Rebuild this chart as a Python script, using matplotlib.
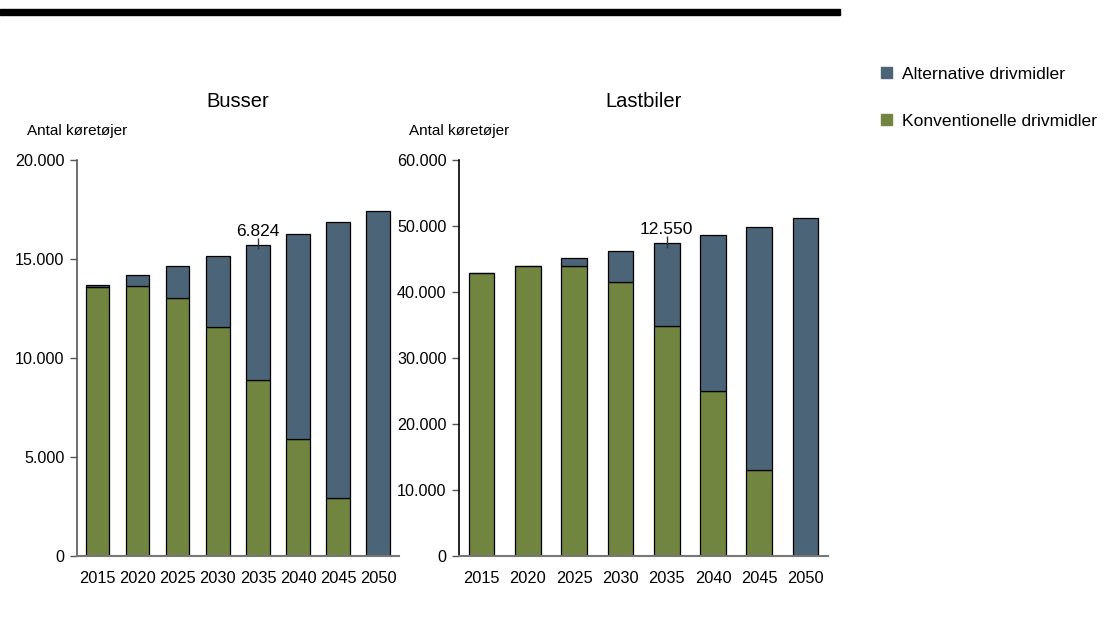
import matplotlib.pyplot as plt
import matplotlib.patches as mpatches
from matplotlib.ticker import FuncFormatter

plt.rcParams['font.family'] = ['Liberation Sans', 'DejaVu Sans']

years = ['2015', '2020', '2025', '2030', '2035', '2040', '2045', '2050']

# Busser
bus_konv = [13600, 13620, 13050, 11580, 8900, 5920, 2910, 0]
bus_alt = [100, 570, 1610, 3590, 6824, 10360, 13940, 17430]

# Lastbiler
last_konv = [42880, 43980, 43980, 41520, 34900, 25070, 13070, 0]
last_alt = [0, 0, 1170, 4730, 12550, 23560, 36810, 51250]

col_alt = '#4b6477'
col_konv = '#718541'


def thousands(v, pos):
    return f'{int(v):,}'.replace(',', '.')


def draw_panel(ax, konv, alt, title, ymax, step, width, xlim, label_idx, ax_px):
    x = range(len(years))
    ax.bar(x, konv, width=width, color=col_konv, edgecolor='black', linewidth=0.9)
    ax.bar(x, alt, bottom=konv, width=width, color=col_alt, edgecolor='black', linewidth=0.9)
    ax.set_xlim(*xlim)
    ax.set_ylim(0, ymax)
    ax.set_yticks(range(0, ymax + 1, step))
    ax.yaxis.set_major_formatter(FuncFormatter(thousands))
    ax.set_xticks(list(x))
    ax.set_xticklabels(years)
    ax.tick_params(axis='x', length=0, pad=11, labelsize=11.8)
    ax.tick_params(axis='y', length=5, width=1, color='#555555', labelsize=11.6, pad=4)
    for s in ['top', 'right']:
        ax.spines[s].set_visible(False)
    ax.spines['left'].set_color('#555555')
    ax.spines['bottom'].set_color('#777777')
    ax.spines['left'].set_linewidth(1.2)
    ax.spines['bottom'].set_linewidth(1.5)
    ax.set_title(title, fontsize=14.5, pad=38)
    ax.text(-50 / ax_px, 1.055, 'Antal køretøjer', transform=ax.transAxes,
            fontsize=11, ha='left', va='bottom')

    # value label with small marker at the bar top
    i = label_idx
    top = konv[i] + alt[i]
    ax.vlines(i, top - ymax * 0.012, top + ymax * 0.016, color='#333333', linewidth=1)
    ax.text(i, top + ymax * 0.014, thousands(alt[i], None), ha='center', va='bottom', fontsize=12.5)


fig = plt.figure(figsize=(11.14, 6.3), dpi=100)

ax1 = fig.add_axes([0.0691, 0.1175, 0.289, 0.6286])
draw_panel(ax1, bus_konv, bus_alt, 'Busser', 20000, 5000, 0.58, (-0.52, 7.52), 4, 322)

ax2 = fig.add_axes([0.412, 0.1175, 0.331, 0.6286])
draw_panel(ax2, last_konv, last_alt, 'Lastbiler', 60000, 10000, 0.555, (-0.49, 7.48), 4, 369)
ax2.spines['left'].set_color('black')

# heavy rule across the top
fig.add_artist(mpatches.Rectangle((0, 1 - 15 / 630), 840 / 1114, 6 / 630,
                                  transform=fig.transFigure, color='black'))

handles = [mpatches.Patch(color=col_alt, label='Alternative drivmidler'),
           mpatches.Patch(color=col_konv, label='Konventionelle drivmidler')]
fig.legend(handles=handles, loc='upper left', bbox_to_anchor=(0.783, 0.908),
           frameon=False, fontsize=12.6, handlelength=0.6, handleheight=0.6,
           handletextpad=0.6, labelspacing=1.85, borderpad=0)

fig.savefig('out.png', dpi=100)
